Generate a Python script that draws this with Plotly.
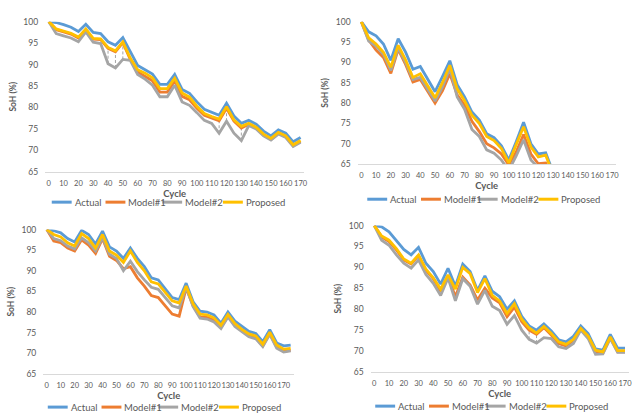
import plotly.graph_objects as go

# ---------------- data ----------------
series_names = ["Actual", "Model#1", "Model#2", "Proposed"]
series_colors = ["#5B9BD5", "#ED7D31", "#A5A5A5", "#FFC000"]
tick_cycles = list(range(0, 171, 10))
soh_ticks = [65, 70, 75, 80, 85, 90, 95, 100]

# Cell A
cycles_a = list(range(0, 171, 5))
actual_a = [100, 99.8, 99.3, 98.7, 97.7, 99.4, 97.5, 97.2, 95.3, 94.5, 96.3, 93.0, 89.8, 88.8, 87.8,
            85.4, 85.4, 87.7, 84.2, 83.3, 81.3, 79.6, 78.9, 78.2, 81.0, 78.0, 76.3, 77.0, 76.1, 74.5,
            73.4, 74.8, 74.0, 72.0, 73.0]
model1_a = [100, 98.1, 97.6, 97.1, 96.2, 98.1, 95.9, 95.8, 93.8, 93.0, 95.1, 91.2, 88.3, 87.3, 86.2,
            83.6, 83.6, 86.2, 82.6, 81.8, 79.8, 78.2, 77.5, 76.9, 79.8, 76.8, 75.2, 76.1, 75.2, 73.6,
            72.6, 74.0, 73.2, 71.1, 72.1]
model2_a = [100, 97.2, 96.7, 96.2, 95.3, 97.6, 95.2, 94.9, 90.2, 89.2, 91.2, 91.0, 87.7, 86.6, 85.2,
            82.5, 82.5, 85.2, 81.3, 80.5, 78.8, 77.0, 76.3, 74.0, 76.8, 74.0, 72.3, 75.8, 75.0, 73.4,
            72.4, 73.8, 73.0, 70.9, 71.9]
proposed_a = [100, 98.3, 97.8, 97.3, 96.4, 98.3, 96.1, 96.0, 94.0, 93.2, 95.3, 91.5, 88.8, 88.0, 86.9,
              84.4, 84.4, 86.8, 83.4, 82.4, 80.3, 78.6, 77.9, 77.3, 80.2, 77.1, 75.6, 76.3, 75.4, 73.8,
              72.8, 74.2, 73.4, 71.3, 72.3]
drops_a = [40, 45, 50, 115, 120, 130]

# Cell B (falls below the 65 % floor after cycle 125)
cycles_b = list(range(0, 131, 5))
actual_b = [100, 97.5, 96.5, 94.5, 90.5, 95.8, 92.5, 88.3, 89.0, 86.0, 82.8, 86.5, 90.4, 84.5, 81.5,
            77.8, 75.8, 72.5, 71.5, 69.5, 66.0, 70.5, 75.3, 70.0, 67.5, 67.8, 63.0]
model1_b = [100, 95.5, 93.0, 91.2, 87.3, 93.2, 89.5, 85.2, 85.8, 83.0, 80.0, 83.0, 87.2, 82.0, 79.5,
            75.5, 73.0, 70.0, 69.0, 67.5, 64.8, 68.0, 72.3, 67.5, 65.1, 65.3, 62.0]
model2_b = [100, 95.2, 94.0, 92.0, 88.0, 93.5, 90.0, 85.8, 86.3, 83.5, 80.5, 84.0, 88.5, 81.5, 78.5,
            73.5, 71.8, 68.5, 67.7, 66.0, 63.5, 67.0, 71.0, 66.0, 64.2, 64.5, 61.0]
proposed_b = [100, 96.0, 94.5, 92.5, 88.8, 94.2, 90.6, 86.3, 87.2, 84.3, 81.3, 85.0, 89.3, 83.5, 80.6,
              77.0, 75.0, 71.8, 70.8, 68.8, 65.3, 69.8, 74.2, 69.2, 66.8, 67.2, 62.5]
drops_b = []

# Cell C
cycles_c = list(range(0, 176, 5))
actual_c = [100, 99.7, 99.2, 97.8, 97.0, 99.8, 98.8, 96.5, 99.6, 95.8, 94.8, 93.0, 95.5, 93.0, 91.0,
            88.3, 87.8, 85.7, 83.5, 83.0, 87.0, 82.5, 80.2, 80.0, 79.3, 77.3, 80.0, 77.8, 76.5, 75.3,
            74.8, 72.8, 75.7, 72.5, 71.8, 72.0]
model1_c = [100, 97.2, 96.8, 95.5, 94.8, 97.5, 96.2, 94.2, 97.8, 93.5, 92.5, 90.5, 91.0, 88.3, 86.3,
            84.0, 83.5, 81.5, 79.5, 79.0, 85.8, 81.5, 78.8, 78.7, 78.0, 76.3, 79.0, 76.8, 75.5, 74.3,
            73.8, 71.8, 74.8, 71.5, 70.5, 70.7]
model2_c = [100, 97.8, 97.3, 96.0, 95.3, 98.0, 96.8, 94.8, 98.0, 94.0, 93.0, 90.0, 92.3, 89.8, 87.8,
            86.0, 85.5, 83.5, 81.5, 81.0, 86.0, 81.3, 78.5, 78.3, 77.6, 76.0, 78.8, 76.5, 75.2, 74.0,
            73.5, 71.6, 74.6, 71.2, 70.3, 70.6]
proposed_c = [100, 98.8, 98.2, 96.8, 96.0, 99.0, 97.8, 95.5, 98.8, 94.8, 93.8, 92.0, 94.8, 92.0, 90.0,
              87.3, 86.8, 84.8, 82.7, 82.2, 86.3, 82.0, 79.5, 79.3, 78.6, 76.8, 79.4, 77.2, 75.8, 74.7,
              74.2, 72.2, 75.1, 72.0, 71.0, 71.2]
drops_c = []

# Cell D
cycles_d = list(range(0, 171, 5))
actual_d = [100, 99.7, 98.5, 96.3, 94.3, 93.0, 94.8, 91.0, 89.0, 86.0, 89.8, 85.5, 90.8, 89.0, 84.5,
            88.0, 84.3, 83.0, 80.0, 82.0, 78.3, 76.0, 75.0, 76.5, 74.8, 72.7, 72.2, 73.5, 76.0, 74.2,
            70.5, 70.2, 74.0, 70.7, 70.7]
model1_d = [100, 97.3, 96.2, 94.2, 91.8, 90.8, 92.8, 89.3, 87.3, 84.3, 87.8, 83.0, 87.7, 85.8, 82.2,
            85.0, 82.7, 81.5, 78.2, 80.5, 77.0, 75.0, 74.0, 75.6, 73.8, 71.8, 71.2, 72.5, 75.2, 73.3,
            69.8, 69.5, 73.2, 69.8, 69.8]
model2_d = [100, 96.5, 95.3, 93.0, 91.0, 89.8, 91.8, 88.3, 86.2, 83.3, 87.5, 82.0, 87.3, 85.5, 81.2,
            84.5, 80.7, 79.7, 76.4, 78.5, 75.0, 72.8, 71.9, 73.2, 73.0, 71.0, 70.6, 71.8, 75.0, 73.0,
            69.2, 69.3, 73.0, 69.7, 69.7]
proposed_d = [100, 97.5, 96.5, 94.5, 92.0, 91.0, 93.0, 89.6, 87.5, 84.8, 88.2, 84.8, 90.0, 88.5, 84.0,
              87.3, 83.3, 82.0, 79.0, 81.3, 77.6, 75.5, 74.3, 75.9, 74.2, 72.2, 71.6, 72.8, 75.4, 73.6,
              70.2, 69.8, 73.4, 70.1, 70.1]
drops_d = [105, 110]

# ---------------- layout of the four cells ----------------
W, H = 638, 416
FONT = "Lato, 'Liberation Sans', sans-serif"
TXT = "#595959"

panels = [
    dict(cycles=cycles_a, data=[actual_a, model1_a, model2_a, proposed_a], drops=drops_a,
         xdom=[0.0710, 0.4792], ydom=[0.589, 0.959], xr=[-2.5, 172.5], leg_px=(52, 202)),
    dict(cycles=cycles_b, data=[actual_b, model1_b, model2_b, proposed_b], drops=drops_b,
         xdom=[0.5632, 0.9697], ydom=[0.608, 0.959], xr=[-2.5, 172.5], leg_px=(369, 199)),
    dict(cycles=cycles_c, data=[actual_c, model1_c, model2_c, proposed_c], drops=drops_c,
         xdom=[0.0682, 0.4632], ydom=[0.0913, 0.447], xr=[-2.5, 177.5], leg_px=(48, 412)),
    dict(cycles=cycles_d, data=[actual_d, model1_d, model2_d, proposed_d], drops=drops_d,
         xdom=[0.5836, 0.9901], ydom=[0.0962, 0.4567], xr=[-2.5, 172.5], leg_px=(377, 411)),
]

# legend key offsets (px) from the start of each legend row
key_offsets = [0, 54, 111, 172]
KEY_LEN = 20

fig = go.Figure()
layout = dict(
    width=W, height=H,
    margin=dict(l=0, r=0, t=0, b=0),
    paper_bgcolor="white", plot_bgcolor="white",
    font=dict(family=FONT, color=TXT, size=9),
    showlegend=False,
)
shapes, annotations = [], []

for i, p in enumerate(panels, start=1):
    sfx = "" if i == 1 else str(i)
    xa, ya = "x" + sfx, "y" + sfx

    # dashed connectors between Model#2 and Model#1 where they diverge
    if p["drops"]:
        dx, dy = [], []
        for c in p["drops"]:
            k = p["cycles"].index(c)
            dx += [c, c, None]
            dy += [p["data"][2][k], p["data"][1][k], None]
        fig.add_trace(go.Scatter(x=dx, y=dy, mode="lines", xaxis=xa, yaxis=ya,
                                 line=dict(color="#A5A5A5", width=1, dash="3px,2px"),
                                 hoverinfo="skip"))

    for name, color, vals in zip(series_names, series_colors, p["data"]):
        fig.add_trace(go.Scatter(x=p["cycles"], y=vals, mode="lines", name=name,
                                 xaxis=xa, yaxis=ya,
                                 line=dict(color=color, width=2.8)))

    layout["xaxis" + sfx] = dict(
        domain=p["xdom"], anchor=ya, range=p["xr"],
        tickvals=tick_cycles, tickangle=0, ticks="", showgrid=False, zeroline=False,
        showline=True, linecolor="#D9D9D9", linewidth=1,
        tickfont=dict(size=7.5, color=TXT), ticklabelstandoff=4,
        title=dict(text="<b>Cycle</b>", font=dict(size=9.5, color=TXT), standoff=3),
    )
    layout["yaxis" + sfx] = dict(
        domain=p["ydom"], anchor=xa, range=[65, 100],
        tickvals=soh_ticks, ticks="", showgrid=False, zeroline=False, showline=False,
        tickfont=dict(size=8.5, color=TXT), ticklabelstandoff=6,
        title=dict(text="<b>SoH (%)</b>", font=dict(size=8.5, color=TXT), standoff=5),
    )

    # legend row under each cell: short line key followed by the series name
    lx, ly = p["leg_px"]
    for off, name, color in zip(key_offsets, series_names, series_colors):
        x0 = lx + off
        yp = 1 - ly / H
        shapes.append(dict(type="line", xref="paper", yref="paper",
                           x0=x0 / W, x1=(x0 + KEY_LEN) / W, y0=yp, y1=yp,
                           line=dict(color=color, width=3)))
        annotations.append(dict(xref="paper", yref="paper", x=(x0 + KEY_LEN + 1) / W, y=yp,
                                xanchor="left", yanchor="middle", showarrow=False,
                                text=name, font=dict(size=9.5, color=TXT)))

layout["shapes"] = shapes
layout["annotations"] = annotations
fig.update_layout(**layout)
fig.write_html("out.html")
